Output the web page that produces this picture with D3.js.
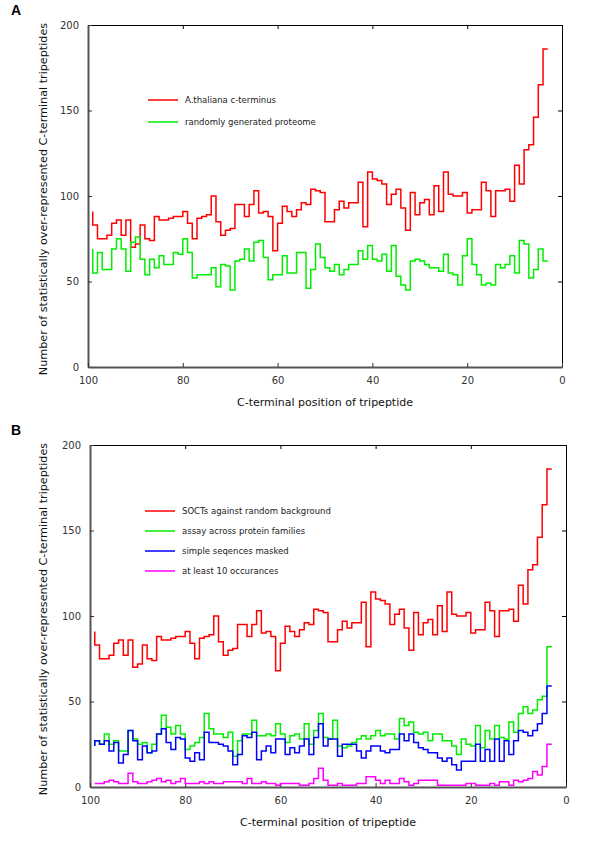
<!DOCTYPE html>
<html>
<head>
<meta charset="utf-8">
<script src="https://cdn.jsdelivr.net/npm/d3@7"></script>
<style>
  body { margin: 0; background: #fff; }
  svg { display: block; font-family: "DejaVu Sans", sans-serif; }
</style>
</head>
<body>
<div id="chart"></div>
<script>
// C-terminal positions, one step per position (99 .. 3)
const positions = d3.range(99, 2, -1);
const xTicks = [100, 80, 60, 40, 20, 0];
const yTicks = [0, 50, 100, 150, 200];

// Panel A
const thalianaCterm = [91, 83, 75, 75, 77, 84, 86, 77, 86, 70, 72, 83, 75, 74, 88, 86, 86, 87, 88, 88,
  91, 84, 75, 87, 88, 89, 100, 85, 77, 80, 81, 95, 95, 88, 95, 103, 90, 91, 88, 68,
  84, 94, 91, 88, 92, 96, 95, 104, 103, 102, 85, 85, 92, 97, 93, 96, 96, 108, 82, 114,
  110, 109, 107, 95, 101, 104, 93, 80, 102, 89, 96, 98, 89, 106, 91, 114, 101, 100, 100, 102,
  90, 92, 92, 108, 103, 88, 103, 103, 104, 97, 118, 107, 127, 130, 146, 165, 186];
const randomProteome = [69, 55, 67, 57, 57, 69, 75, 69, 56, 73, 76, 63, 54, 63, 58, 65, 60, 60, 67, 66,
  75, 67, 52, 54, 54, 54, 58, 47, 60, 59, 45, 62, 63, 69, 62, 73, 74, 64, 51, 54,
  54, 65, 55, 55, 67, 67, 46, 57, 72, 64, 58, 56, 60, 54, 57, 60, 60, 68, 63, 71,
  63, 62, 66, 56, 71, 53, 48, 45, 62, 63, 62, 60, 58, 58, 56, 66, 55, 54, 48, 65,
  75, 60, 54, 48, 49, 48, 60, 58, 60, 65, 55, 74, 72, 52, 57, 69, 62];

// Panel B
const soctsRandom = thalianaCterm;
const assayFamilies = [24, 27, 25, 31, 25, 27, 21, 21, 33, 28, 25, 26, 20, 25, 31, 42, 35, 31, 36, 31,
  22, 24, 26, 29, 43, 34, 31, 31, 29, 32, 18, 27, 31, 31, 39, 30, 30, 31, 30, 37,
  31, 26, 30, 31, 28, 37, 25, 33, 43, 29, 28, 39, 24, 23, 24, 26, 28, 30, 28, 30,
  33, 30, 31, 31, 28, 40, 36, 38, 32, 31, 32, 27, 31, 31, 27, 27, 24, 19, 28, 25,
  24, 36, 23, 33, 28, 36, 29, 28, 38, 32, 43, 47, 43, 45, 51, 53, 82];
const simpleMasked = [24, 27, 25, 27, 21, 26, 14, 19, 33, 27, 16, 24, 20, 21, 31, 34, 26, 22, 29, 28,
  17, 15, 20, 16, 32, 26, 26, 25, 24, 21, 13, 19, 30, 29, 32, 16, 21, 24, 20, 28,
  28, 19, 23, 20, 24, 28, 19, 29, 37, 24, 28, 28, 18, 25, 25, 25, 21, 17, 21, 24,
  24, 21, 20, 22, 22, 31, 27, 31, 26, 23, 22, 20, 20, 17, 15, 17, 13, 10, 15, 15,
  15, 25, 15, 22, 15, 28, 15, 27, 19, 27, 33, 32, 30, 33, 37, 43, 59];
const atLeast10 = [2, 2, 2, 3, 4, 3, 2, 2, 8, 3, 2, 2, 3, 4, 5, 3, 4, 2, 3, 5,
  2, 2, 2, 3, 2, 3, 2, 2, 3, 3, 3, 3, 2, 5, 2, 2, 3, 2, 2, 1,
  2, 2, 2, 2, 1, 1, 2, 5, 11, 4, 1, 1, 2, 1, 1, 1, 2, 2, 6, 6,
  4, 2, 4, 2, 2, 5, 3, 1, 2, 4, 4, 4, 4, 1, 1, 1, 1, 1, 1, 2,
  2, 1, 1, 1, 2, 1, 3, 3, 1, 4, 3, 4, 5, 9, 7, 12, 25];

const yTitle = "Number of statistically over-represented C-terminal tripeptides";
const xTitle = "C-terminal position of tripeptide";

const panels = [
  { label: "A", top: 25, bottom: 367, left: 88, right: 562,
    legendY: [100, 122], legendX: 148,
    series: [
      { name: "A.thaliana c-terminus", values: thalianaCterm, color: "#ff0000" },
      { name: "randomly generated proteome", values: randomProteome, color: "#00ee00" }
    ] },
  { label: "B", top: 445, bottom: 787, left: 90, right: 566,
    legendY: [511, 531, 551, 571], legendX: 145,
    series: [
      { name: "SOCTs against random background", values: soctsRandom, color: "#ff0000" },
      { name: "assay across protein families", values: assayFamilies, color: "#00ee00" },
      { name: "simple seqences masked", values: simpleMasked, color: "#0000ff" },
      { name: "at least 10 occurances", values: atLeast10, color: "#ff00ff" }
    ] }
];

const width = 600, height = 842;
const svg = d3.select("#chart").append("svg")
  .attr("width", width)
  .attr("height", height);

function drawPanel(p) {
  const x = d3.scaleLinear().domain([100, 0]).range([p.left, p.right]);
  const y = d3.scaleLinear().domain([0, 200]).range([p.bottom, p.top]);
  const g = svg.append("g");

  // top / right frame, thin black with inward ticks
  g.append("g")
    .attr("transform", `translate(0,${p.top})`)
    .call(d3.axisTop(x).tickValues(xTicks).tickFormat("").tickSizeInner(-4).tickSizeOuter(0))
    .call(a => a.select(".domain").attr("stroke", "#000").attr("stroke-width", 1));
  g.append("g")
    .attr("transform", `translate(${p.right},0)`)
    .call(d3.axisRight(y).tickValues(yTicks).tickFormat("").tickSizeInner(-4).tickSizeOuter(0))
    .call(a => a.select(".domain").attr("stroke", "#000").attr("stroke-width", 1));

  // left / bottom axes, grey and heavier
  const yAxis = g.append("g")
    .attr("transform", `translate(${p.left},0)`)
    .call(d3.axisLeft(y).tickValues(yTicks).tickSizeInner(-4).tickSizeOuter(0).tickPadding(9));
  const xAxis = g.append("g")
    .attr("transform", `translate(0,${p.bottom})`)
    .call(d3.axisBottom(x).tickValues(xTicks).tickSizeInner(-4).tickSizeOuter(0).tickPadding(10));
  [yAxis, xAxis].forEach(a => {
    a.select(".domain").attr("stroke", "#555").attr("stroke-width", 2);
    a.selectAll(".tick line").attr("stroke", "#333");
    a.selectAll(".tick text")
      .attr("fill", "#333")
      .style("font-size", "10px")
      .style("font-family", "DejaVu Sans, sans-serif");
  });

  // step lines
  const line = d3.line()
    .x((d, i) => x(positions[i]))
    .y(d => y(d))
    .curve(d3.curveStepBefore);
  g.selectAll("path.series")
    .data(p.series)
    .enter()
    .append("path")
    .attr("class", "series")
    .attr("fill", "none")
    .attr("stroke", d => d.color)
    .attr("stroke-width", 1.5)
    .attr("d", d => line(d.values));

  // legend
  const leg = g.selectAll("g.legend")
    .data(p.series)
    .enter()
    .append("g")
    .attr("class", "legend")
    .attr("transform", (d, i) => `translate(${p.legendX},${p.legendY[i]})`);
  leg.append("line")
    .attr("x1", 0).attr("x2", 30)
    .attr("stroke", d => d.color)
    .attr("stroke-width", 1.5);
  leg.append("text")
    .attr("x", 37)
    .attr("dy", "0.35em")
    .style("font-size", "8.5px")
    .attr("fill", "#222")
    .text(d => d.name);

  // titles
  g.append("text")
    .attr("transform", `translate(47,${(p.top + p.bottom) / 2 + 3}) rotate(-90)`)
    .attr("text-anchor", "middle")
    .style("font-size", "11.2px")
    .attr("fill", "#111")
    .text(yTitle);
  g.append("text")
    .attr("x", (p.left + p.right) / 2)
    .attr("y", p.bottom + 39)
    .attr("text-anchor", "middle")
    .style("font-size", "11px")
    .attr("fill", "#111")
    .text(xTitle);

  // panel letter
  g.append("text")
    .attr("x", 11)
    .attr("y", p.top - 10)
    .style("font-size", "14px")
    .style("font-weight", "bold")
    .style("font-family", "Liberation Sans, Arial, sans-serif")
    .text(p.label);
}

panels.forEach(drawPanel);
</script>
</body>
</html>
